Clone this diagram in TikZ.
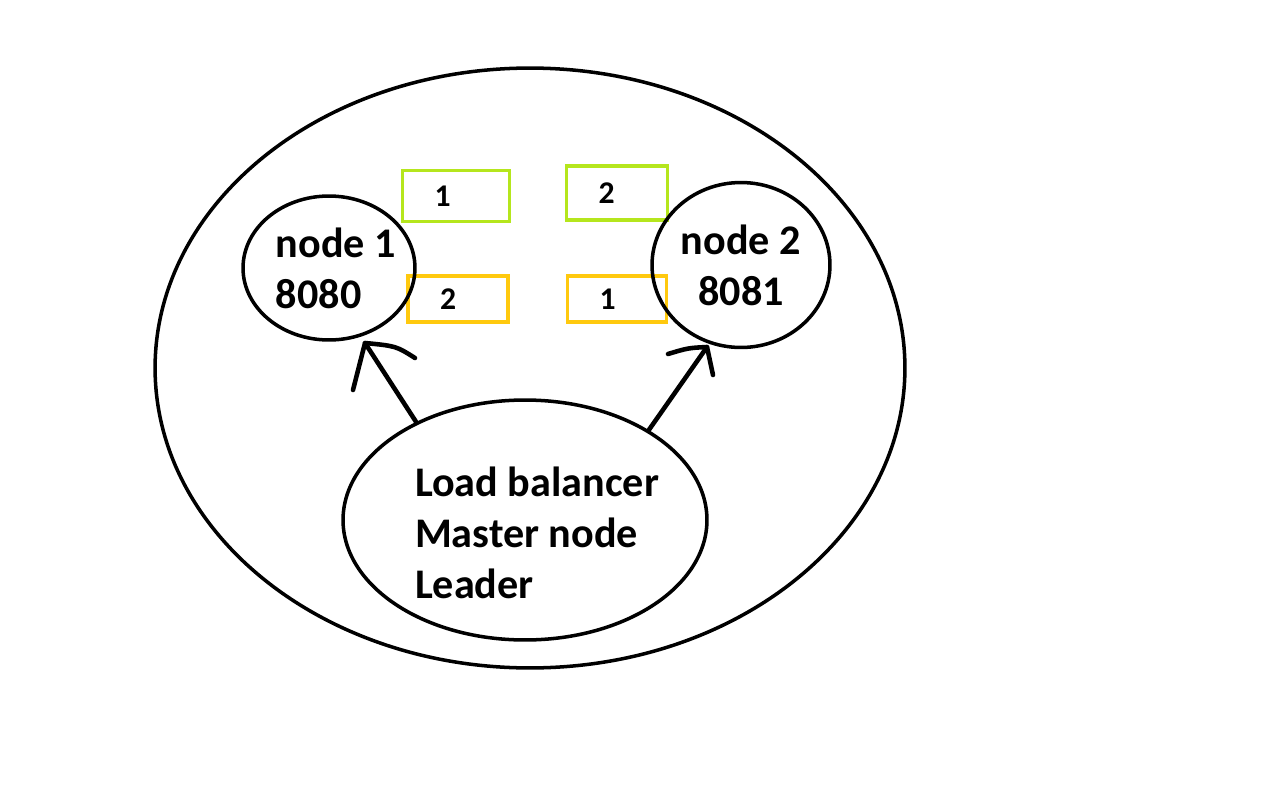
\documentclass[tikz,border=0pt]{standalone}
\usepackage{fontspec}
\setmainfont{Carlito}
\usepackage[svgnames]{xcolor}
\usetikzlibrary{shapes.geometric}
\definecolor{paintlime}{RGB}{181,230,29}
\definecolor{paintgold}{RGB}{255,201,14}

\begin{document}
\begin{tikzpicture}[line width=2pt, x=0.02cm, y=-0.02cm]
   \fill[white] (0,0) rectangle (1282,788);
   \useasboundingbox (0,0) rectangle (1282,788);
   \tikzstyle{main}=[ellipse, draw=black, inner sep=0pt, font=\bfseries\fontsize{24}{29}\selectfont]
   \tikzstyle{slot}=[rectangle, line width=2.2pt, inner xsep=0.64cm, inner ysep=0pt, align=left, font=\bfseries\fontsize{18}{21}\selectfont]
   \tikzstyle{hand}=[line width=2.6pt, line cap=round, line join=round]
   \node[main, minimum width=15cm, minimum height=12cm] (cluster) at (530,368) {};
   % numbered slots between the two nodes
   \foreach \nm/\x/\y/\w/\h/\col/\num in {g1/456/196/0.86/1.02/paintlime/1, g2/617/193/0.74/1.08/paintlime/2,
                                           o2/458/299/0.72/0.92/paintgold/2, o1/617/299/0.70/0.92/paintgold/1} {
       \node[slot, draw=\col, text width=\w cm, minimum height=\h cm] (\nm) at (\x,\y) {\num};
   }
   \node[main, minimum width=3.44cm, minimum height=2.88cm,
         label={[align=left, font=\bfseries\fontsize{24}{29}\selectfont, xshift=0.14cm]center:node 1\\8080}] (node1) at (329,268) {};
   \node[main, minimum width=3.56cm, minimum height=3.3cm, align=center] (node2) at (741,265) {node 2\\8081};
   \node[main, minimum width=7.28cm, minimum height=4.8cm,
         label={[align=left, font=\bfseries\fontsize{24}{29}\selectfont, xshift=0.24cm, yshift=-0.26cm]center:Load balancer\\Master node\\Leader}] (lb) at (525,520) {};
   % hand drawn arrows
   \coordinate (tip1) at (365,343);
   \coordinate (barb1a) at (353,390);
   \coordinate (barb1b) at (415,358);
   \coordinate (tip2) at (707,347);
   \coordinate (barb2a) at (668,354);
   \coordinate (barb2b) at (713,375);
   \draw[hand] (lb.138) -- (tip1) -- (barb1a);
   \draw[hand] (tip1) .. controls (396,346) .. (barb1b);
   \draw[hand] (lb.36) -- (tip2) -- (barb2b);
   \draw[hand] (tip2) .. controls (688,348) .. (barb2a);
\end{tikzpicture}
\end{document}
